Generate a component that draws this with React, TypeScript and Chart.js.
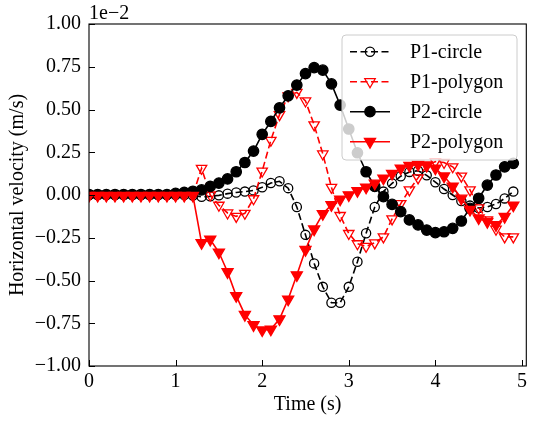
import React, { useEffect, useRef } from 'react';
import { Chart, registerables } from 'chart.js';

Chart.register(...registerables);

// ---------- data (values in units of 1e-2 m/s) ----------
const timeS = [
  0.0, 0.1, 0.2, 0.3, 0.4, 0.5, 0.6, 0.7, 0.8, 0.9,
  1.0, 1.1, 1.2, 1.3, 1.4, 1.5, 1.6, 1.7, 1.8, 1.9,
  2.0, 2.1, 2.2, 2.3, 2.4, 2.5, 2.6, 2.7, 2.8, 2.9,
  3.0, 3.1, 3.2, 3.3, 3.4, 3.5, 3.6, 3.7, 3.8, 3.9,
  4.0, 4.1, 4.2, 4.3, 4.4, 4.5, 4.6, 4.7, 4.8, 4.9,
];

const p1Circle = [
  0, 0, 0, 0, 0, 0, 0, 0, 0, 0,
  0, 0, -0.003, -0.01, -0.008, -0.002, 0.008, 0.015, 0.02, 0.027,
  0.045, 0.07, 0.08, 0.04, -0.07, -0.233, -0.4, -0.537, -0.63, -0.63,
  -0.537, -0.39, -0.224, -0.07, 0.02, 0.068, 0.11, 0.135, 0.142, 0.115,
  0.075, 0.035, 0.0, -0.035, -0.062, -0.076, -0.07, -0.053, -0.02, 0.02,
];

const p1Polygon = [
  0, 0, 0, 0, 0, 0, 0, 0, 0, 0,
  0, 0, 0, 0.156, 0.0, -0.06, -0.105, -0.125, -0.107, -0.022,
  0.14, 0.32, 0.47, 0.58, 0.6, 0.55, 0.41, 0.24, 0.045, -0.12,
  -0.225, -0.285, -0.3, -0.28, -0.245, -0.14, -0.05, 0.03, 0.1, 0.17,
  0.195, 0.19, 0.165, 0.11, 0.03, -0.075, -0.145, -0.2, -0.245, -0.245,
];

const p2Circle = [
  0.003, 0.003, 0.003, 0.003, 0.003, 0.003, 0.003, 0.003, 0.003, 0.003,
  0.01, 0.015, 0.022, 0.03, 0.05, 0.07, 0.094, 0.136, 0.19, 0.257,
  0.355, 0.43, 0.51, 0.58, 0.643, 0.71, 0.745, 0.73, 0.65, 0.526,
  0.386, 0.247, 0.136, 0.05, -0.01, -0.055, -0.097, -0.146, -0.175, -0.205,
  -0.22, -0.215, -0.195, -0.152, -0.078, -0.019, 0.058, 0.117, 0.165, 0.185,
];

const p2Polygon = [
  -0.003, -0.003, -0.003, -0.003, -0.003, -0.003, -0.003, -0.003, -0.003, -0.003,
  -0.003, -0.003, -0.003, -0.28, -0.26, -0.335, -0.45, -0.59, -0.7, -0.76,
  -0.79, -0.785, -0.725, -0.61, -0.468, -0.32, -0.2, -0.11, -0.058, -0.025,
  0.0, 0.025, 0.045, 0.068, 0.098, 0.125, 0.156, 0.172, 0.178, 0.175,
  0.156, 0.11, 0.05, -0.02, -0.085, -0.135, -0.156, -0.175, -0.127, -0.06,
];

const seriesLabels = ['P1-circle', 'P1-polygon', 'P2-circle', 'P2-polygon'];
const xTickValues = [0, 1, 2, 3, 4, 5];
const yTickValues = [-1, -0.75, -0.5, -0.25, 0, 0.25, 0.5, 0.75, 1];
const xTitle = 'Time (s)';
const yTitle = 'Horizontal velocity (m/s)';
const offsetText = '1e\u22122';

// ---------- styling ----------
const FONT = '"Liberation Serif", "DejaVu Serif", "Times New Roman", serif';
const FS = 20;
const W = 534;
const H = 423;

type MarkerKind = 'circle' | 'tri';
interface SeriesStyle {
  color: string;
  dash: number[];
  marker: MarkerKind;
  filled: boolean;
  radius: number;
}
const seriesStyles: SeriesStyle[] = [
  { color: '#000000', dash: [7, 3.5], marker: 'circle', filled: false, radius: 4.6 },
  { color: '#ff0000', dash: [7, 3.5], marker: 'tri', filled: false, radius: 6 },
  { color: '#000000', dash: [], marker: 'circle', filled: true, radius: 5.2 },
  { color: '#ff0000', dash: [], marker: 'tri', filled: true, radius: 6.4 },
];
const seriesValues = [p1Circle, p1Polygon, p2Circle, p2Polygon];

function drawMarker(ctx: CanvasRenderingContext2D, s: SeriesStyle, x: number, y: number) {
  ctx.save();
  ctx.setLineDash([]);
  ctx.beginPath();
  if (s.marker === 'circle') {
    ctx.arc(x, y, s.radius, 0, Math.PI * 2);
  } else {
    const r = s.radius;
    ctx.moveTo(x, y + r);
    ctx.lineTo(x - r * 0.866, y - r * 0.5);
    ctx.lineTo(x + r * 0.866, y - r * 0.5);
    ctx.closePath();
  }
  if (s.filled) {
    ctx.fillStyle = s.color;
    ctx.fill();
  }
  ctx.lineWidth = 1.3;
  ctx.strokeStyle = s.color;
  ctx.stroke();
  ctx.restore();
}

const mplPlugin = {
  id: 'mplDecor',
  afterDraw(chart: any) {
    const { ctx, chartArea } = chart;
    const { left, right, top, bottom } = chartArea;
    const xs = chart.scales.x;
    const ys = chart.scales.y;
    ctx.save();
    // frame
    ctx.strokeStyle = '#000';
    ctx.lineWidth = 1.1;
    ctx.setLineDash([]);
    ctx.strokeRect(left, top, right - left, bottom - top);
    // inward ticks
    ctx.lineWidth = 1;
    ctx.beginPath();
    xTickValues.forEach((v) => {
      const px = Math.round(xs.getPixelForValue(v)) + 0.5;
      ctx.moveTo(px, bottom);
      ctx.lineTo(px, bottom - 6);
    });
    yTickValues.forEach((v) => {
      const py = Math.round(ys.getPixelForValue(v)) + 0.5;
      ctx.moveTo(left, py);
      ctx.lineTo(left + 6, py);
    });
    ctx.stroke();
    // offset text
    ctx.fillStyle = '#000';
    ctx.font = `${FS}px ${FONT}`;
    ctx.textAlign = 'left';
    ctx.textBaseline = 'alphabetic';
    ctx.fillText(offsetText, left, top - 5);

    // legend
    const lx0 = 342, ly0 = 35, lw = 175, lh = 125, rr = 4;
    ctx.beginPath();
    ctx.moveTo(lx0 + rr, ly0);
    ctx.lineTo(lx0 + lw - rr, ly0);
    ctx.quadraticCurveTo(lx0 + lw, ly0, lx0 + lw, ly0 + rr);
    ctx.lineTo(lx0 + lw, ly0 + lh - rr);
    ctx.quadraticCurveTo(lx0 + lw, ly0 + lh, lx0 + lw - rr, ly0 + lh);
    ctx.lineTo(lx0 + rr, ly0 + lh);
    ctx.quadraticCurveTo(lx0, ly0 + lh, lx0, ly0 + lh - rr);
    ctx.lineTo(lx0, ly0 + rr);
    ctx.quadraticCurveTo(lx0, ly0, lx0 + rr, ly0);
    ctx.closePath();
    ctx.fillStyle = 'rgba(255,255,255,0.8)';
    ctx.fill();
    ctx.strokeStyle = '#cccccc';
    ctx.lineWidth = 1;
    ctx.stroke();

    seriesLabels.forEach((label, i) => {
      const s = seriesStyles[i];
      const cy = 51.7 + i * 30;
      ctx.save();
      ctx.strokeStyle = s.color;
      ctx.lineWidth = 1.5;
      ctx.setLineDash(s.dash);
      ctx.beginPath();
      ctx.moveTo(350, cy);
      ctx.lineTo(390, cy);
      ctx.stroke();
      ctx.restore();
      drawMarker(ctx, s, 370, cy);
      ctx.fillStyle = '#000';
      ctx.font = `${FS}px ${FONT}`;
      ctx.textAlign = 'left';
      ctx.textBaseline = 'alphabetic';
      ctx.fillText(label, 410, cy + 6.5);
    });
    ctx.restore();
  },
};

function fmtY(v: number): string {
  const s = Math.abs(v).toFixed(2);
  return v < -1e-9 ? '\u2212' + s : s;
}

export default function App() {
  const canvasRef = useRef<HTMLCanvasElement | null>(null);

  useEffect(() => {
    const canvas = canvasRef.current;
    if (!canvas) return;
    const datasets = seriesLabels.map((label, i) => {
      const s = seriesStyles[i];
      return {
        label,
        data: timeS.map((t, k) => ({ x: t, y: seriesValues[i][k] })),
        borderColor: s.color,
        borderWidth: 1.6,
        borderDash: s.dash,
        backgroundColor: s.color,
        fill: false,
        tension: 0,
        pointStyle: s.marker === 'circle' ? 'circle' : 'triangle',
        pointRotation: s.marker === 'circle' ? 0 : 180,
        pointRadius: s.radius,
        pointHoverRadius: s.radius,
        pointBorderWidth: 1.3,
        pointBorderColor: s.color,
        pointBackgroundColor: s.filled ? s.color : 'rgba(0,0,0,0)',
        order: 4 - i,
      };
    });

    const chart = new Chart(canvas, {
      type: 'line',
      data: { datasets },
      options: {
        animation: false,
        responsive: false,
        events: [],
        layout: { padding: { left: 0, right: 6, top: 24, bottom: 0 } },
        plugins: {
          legend: { display: false },
          tooltip: { enabled: false },
        },
        scales: {
          x: {
            type: 'linear',
            min: 0,
            max: 5.05,
            grid: { display: false, drawTicks: false },
            border: { display: false },
            afterFit: (scale: any) => { scale.height = 57; },
            afterBuildTicks: (scale: any) => {
              scale.ticks = xTickValues.map((v) => ({ value: v }));
            },
            ticks: {
              padding: 4,
              color: '#000',
              font: { family: FONT, size: FS },
              maxRotation: 0,
              callback: (v: any) => String(v),
            },
            title: {
              display: true,
              text: xTitle,
              color: '#000',
              font: { family: FONT, size: FS },
              padding: { top: 0, bottom: 6 },
            },
          },
          y: {
            type: 'linear',
            min: -1,
            max: 1,
            grid: { display: false, drawTicks: false },
            border: { display: false },
            afterFit: (scale: any) => { scale.width = 89; },
            afterBuildTicks: (scale: any) => {
              scale.ticks = yTickValues.map((v) => ({ value: v }));
            },
            ticks: {
              padding: 8,
              color: '#000',
              font: { family: FONT, size: FS },
              callback: (v: any) => fmtY(Number(v)),
            },
            title: {
              display: true,
              text: yTitle,
              color: '#000',
              font: { family: FONT, size: FS },
              padding: { top: 6, bottom: 0 },
            },
          },
        },
      } as any,
      plugins: [mplPlugin],
    });
    return () => chart.destroy();
  }, []);

  return (
    <div style={{ position: 'absolute', left: 0, top: 0, width: W, height: H, background: '#fff' }}>
      <canvas ref={canvasRef} width={W} height={H} style={{ display: 'block' }} />
    </div>
  );
}
